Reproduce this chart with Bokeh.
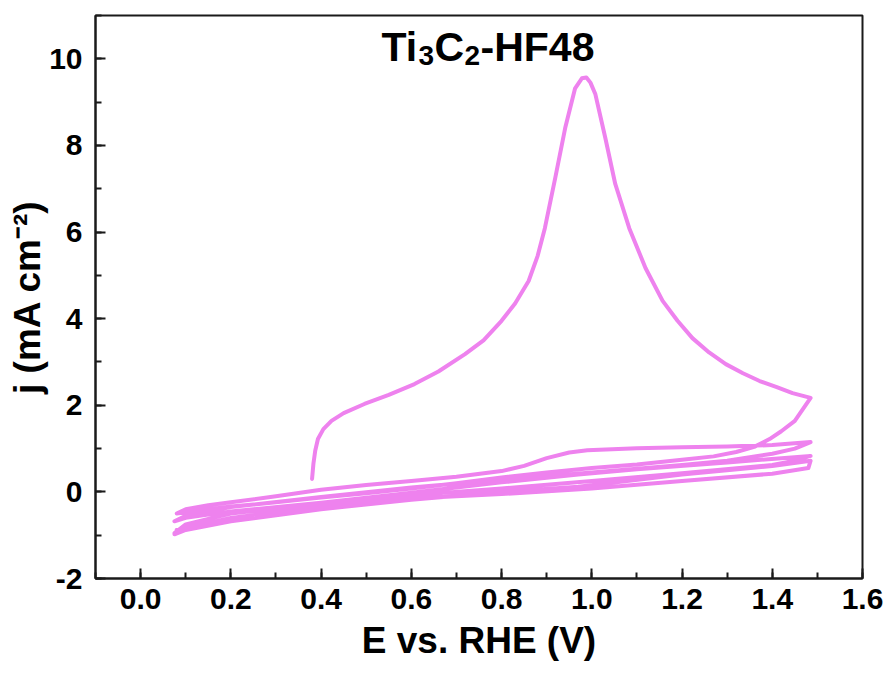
from bokeh.plotting import figure
from bokeh.models import SingleIntervalTicker, PrintfTickFormatter, Label
from bokeh.embed import file_html
from bokeh.resources import INLINE

# ---- data ----
# scan 1: anodic sweep from open-circuit start, through the peak, to 1.485 V
e_scan1 = [0.38, 0.383, 0.387, 0.393, 0.405, 0.423, 0.45, 0.496, 0.55, 0.607, 0.66, 0.719, 0.76, 0.80,
           0.83, 0.86, 0.88, 0.896, 0.919, 0.941, 0.963, 0.978, 0.988, 0.997, 1.008, 1.03, 1.052,
           1.083, 1.119, 1.157, 1.19, 1.223, 1.26, 1.297, 1.335, 1.372, 1.41, 1.445, 1.485]
j_scan1 = [0.30, 0.65, 0.95, 1.22, 1.45, 1.64, 1.82, 2.03, 2.24, 2.49, 2.78, 3.18, 3.50, 3.95,
           4.35, 4.87, 5.45, 6.09, 7.25, 8.40, 9.32, 9.55, 9.57, 9.45, 9.18, 8.17, 7.11,
           6.09, 5.17, 4.41, 3.95, 3.55, 3.22, 2.95, 2.74, 2.56, 2.42, 2.28, 2.17]
# scan 2: cathodic return
e_scan2 = [1.485, 1.45, 1.42, 1.394, 1.36, 1.32, 1.27, 1.2, 1.1, 1.0, 0.9, 0.8, 0.7, 0.6, 0.5,
           0.4, 0.3, 0.2, 0.12, 0.08]
j_scan2 = [2.17, 1.64, 1.40, 1.22, 1.04, 0.92, 0.82, 0.74, 0.63, 0.55, 0.45, 0.33, 0.20, 0.08,
           -0.03, -0.13, -0.24, -0.34, -0.44, -0.50]
# scan 3: second anodic sweep
e_scan3 = [0.08, 0.1, 0.15, 0.2, 0.3, 0.4, 0.5, 0.6, 0.7, 0.8, 0.85, 0.9, 0.95, 0.99, 1.1, 1.2,
           1.3, 1.4, 1.485]
j_scan3 = [-0.50, -0.40, -0.31, -0.24, -0.10, 0.05, 0.16, 0.25, 0.35, 0.48, 0.60, 0.78, 0.91,
           0.96, 1.01, 1.03, 1.05, 1.08, 1.15]
# scan 4: second cathodic sweep
e_scan4 = [1.485, 1.45, 1.4, 1.3, 1.2, 1.0, 0.8, 0.6, 0.4, 0.2, 0.1, 0.075]
j_scan4 = [1.15, 1.00, 0.88, 0.72, 0.62, 0.45, 0.28, 0.10, -0.12, -0.35, -0.55, -0.68]
# scan 5: third anodic sweep
e_scan5 = [0.075, 0.1, 0.2, 0.4, 0.6, 0.8, 0.97, 1.1, 1.3, 1.485]
j_scan5 = [-0.68, -0.60, -0.45, -0.25, -0.02, 0.22, 0.40, 0.52, 0.68, 0.83]
# scan 6: third cathodic sweep
e_scan6 = [1.485, 1.45, 1.4, 1.2, 1.0, 0.8, 0.6, 0.4, 0.2, 0.1, 0.075]
j_scan6 = [0.83, 0.72, 0.62, 0.43, 0.25, 0.08, -0.08, -0.26, -0.50, -0.75, -0.95]
# scan 7: fourth anodic sweep
e_scan7 = [0.075, 0.1, 0.2, 0.4, 0.6, 0.8, 0.97, 1.2, 1.4, 1.485]
j_scan7 = [-0.98, -0.88, -0.68, -0.40, -0.18, 0.00, 0.12, 0.40, 0.60, 0.72]
# scan 8: fourth cathodic sweep
e_scan8 = [1.485, 1.48, 1.4, 1.2, 1.0, 0.8, 0.6, 0.4, 0.2, 0.08]
j_scan8 = [0.72, 0.55, 0.42, 0.25, 0.08, -0.05, -0.15, -0.35, -0.60, -0.88]

x_ticks_fmt = "%.1f"
y_ticks_fmt = "%d"
title_parts = ["Ti", "3", "C", "2", "-HF48"]
x_label = "E vs. RHE (V)"
y_label = "j (mA cm\u207b\u00b2)"

E = []
J = []
for es, js in [(e_scan1, j_scan1), (e_scan2, j_scan2), (e_scan3, j_scan3), (e_scan4, j_scan4),
               (e_scan5, j_scan5), (e_scan6, j_scan6), (e_scan7, j_scan7), (e_scan8, j_scan8)]:
    E.extend(es)
    J.extend(js)

FONT = "Liberation Sans"

p = figure(frame_width=767, frame_height=563, x_range=(-0.1, 1.6), y_range=(-2, 11),
           output_backend="svg", toolbar_location=None,
           min_border_left=95, min_border_right=22, min_border_top=15, min_border_bottom=90)

p.line(E, J, line_color="#EE82EE", line_width=4, line_join="round", line_cap="round")

p.xgrid.visible = False
p.ygrid.visible = False
p.outline_line_color = "#1a1a1a"
p.outline_line_width = 2
p.outline_line_alpha = 1.0

p.xaxis.ticker = SingleIntervalTicker(interval=0.2, num_minor_ticks=2)
p.xaxis.formatter = PrintfTickFormatter(format=x_ticks_fmt)
p.yaxis.ticker = SingleIntervalTicker(interval=2, num_minor_ticks=2)
p.yaxis.formatter = PrintfTickFormatter(format=y_ticks_fmt)

for ax in (p.xaxis[0], p.yaxis[0]):
    ax.axis_line_color = "#1a1a1a"
    ax.axis_line_width = 2
    ax.major_tick_in = 10
    ax.major_tick_out = 0
    ax.minor_tick_in = 6
    ax.minor_tick_out = 0
    ax.major_tick_line_width = 2
    ax.minor_tick_line_width = 2
    ax.major_tick_line_color = "#1a1a1a"
    ax.minor_tick_line_color = "#1a1a1a"
    ax.major_label_text_font = FONT
    ax.major_label_text_font_style = "bold"
    ax.major_label_text_font_size = "30px"
    ax.major_label_text_color = "black"
    ax.axis_label_text_font = FONT
    ax.axis_label_text_font_style = "bold"
    ax.axis_label_text_font_size = "37px"
    ax.axis_label_text_color = "black"

p.xaxis.axis_label = x_label
p.yaxis.axis_label = y_label
p.xaxis.major_label_standoff = 10
p.yaxis.major_label_standoff = 13
p.xaxis.axis_label_standoff = 8
p.yaxis.axis_label_standoff = -2

# title "Ti3C2-HF48" with subscripts, built from pieces
title_x, title_y = 0.534, 10.27
offsets = [0, 37, 53, 83, 99]
is_sub = [False, True, False, True, False]
for txt, dx, sub in zip(title_parts, offsets, is_sub):
    p.add_layout(Label(x=title_x, y=title_y, x_offset=dx, y_offset=(-8 if sub else 0),
                       text=txt, text_align="left", text_baseline="alphabetic",
                       text_font=FONT, text_font_style="bold",
                       text_font_size=("28px" if sub else "41px"), text_color="black"))

open("out.html", "w").write(file_html(p, INLINE))
